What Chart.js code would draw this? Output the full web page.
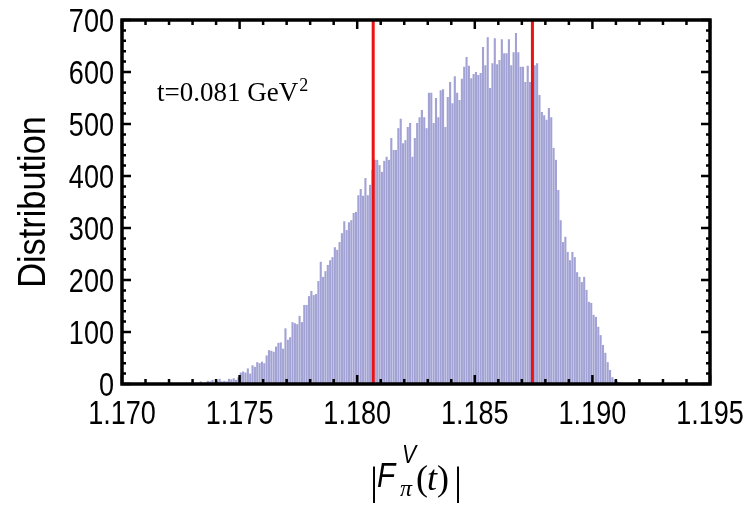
<!DOCTYPE html>
<html>
<head>
<meta charset="utf-8">
<script src="https://cdn.jsdelivr.net/npm/chart.js@4.4.1/dist/chart.umd.min.js"></script>
<style>
  html, body { margin: 0; padding: 0; background: #fff; }
</style>
</head>
<body>
<canvas id="hist" width="750" height="505"></canvas>
<script>
// distribution of |F_pi^V(t)| at t = 0.081 GeV^2, bins of width 0.0001 from 1.1730
var binStart = 1.1730
var binWidth = 0.0001
var counts = [
    0, 2, 0, 5, 0, 3, 6, 5, 8, 3,
    6, 10, 5, 6, 5, 10, 9, 11, 8, 13,
    22, 24, 22, 30, 20, 36, 33, 42, 40, 43,
    40, 55, 65, 64, 62, 72, 79, 80, 68, 107,
    85, 90, 119, 117, 115, 131, 119, 152, 152, 169,
    179, 171, 173, 198, 235, 206, 217, 229, 238, 244,
    263, 258, 273, 290, 313, 296, 311, 315, 329, 331,
    363, 375, 362, 396, 363, 383, 412, 431, 431, 421,
    408, 429, 437, 431, 473, 450, 450, 492, 510, 463,
    469, 494, 502, 437, 473, 502, 513, 527, 513, 492,
    560, 560, 502, 550, 513, 565, 567, 494, 552, 581,
    540, 592, 560, 546, 587, 610, 629, 612, 588, 596,
    600, 594, 598, 648, 613, 667, 569, 617, 665, 615,
    623, 663, 636, 636, 663, 613, 638, 675, 638, 610,
    610, 581, 612, 581, 600, 613, 617, 556, 523, 517,
    508, 531, 513, 454, 431, 373, 315, 273, 283, 254,
    238, 254, 244, 215, 206, 196, 206, 181, 158, 156,
    133, 129, 110, 94, 75, 60, 42, 27, 13, 8,
    5, 3, 1
]
// red vertical lines (interval limits)
var bandEdges = [1.18068, 1.18745]

var xTicks = [1.170, 1.175, 1.180, 1.185, 1.190, 1.195]
var yTicks = [0, 100, 200, 300, 400, 500, 600, 700]

var sans = "'Liberation Sans', Arial, sans-serif"
var serif = "'Liberation Serif', 'Times New Roman', serif"
var squeeze = 0.82   // the reference lettering is condensed

var points = counts.map(function (c, i) {
    return { x: binStart + (i + 0.5) * binWidth, y: c }
})

var datasets = [{
    type: 'bar',
    data: points,
    backgroundColor: 'rgb(162,162,213)',
    borderWidth: 0,
    barPercentage: 1,
    categoryPercentage: 0.9,
    order: 2
}]

bandEdges.forEach(function (e) {
    datasets.push({
        type: 'line',
        data: [{ x: e, y: yTicks[0] }, { x: e, y: yTicks[yTicks.length - 1] }],
        borderColor: '#ee1111',
        borderWidth: 3,
        pointRadius: 0,
        order: 1
    })
})

// narrow text: squeeze horizontally around the anchor
function narrowText(ctx, s, x, y, align, k) {
    ctx.save()
    ctx.translate(x, y)
    ctx.scale(k, 1)
    ctx.textAlign = align
    ctx.fillText(s, 0, 0)
    ctx.restore()
}

var frame = {
    id: 'frame',
    afterDraw: function (chart) {
        var ctx = chart.ctx
        var a = chart.chartArea
        var xs = chart.scales.x
        var ys = chart.scales.y
        ctx.save()
        ctx.strokeStyle = '#000'
        ctx.lineWidth = 2.5
        ctx.beginPath()
        // x ticks every 0.001, major every 0.005
        for (var k = 0; k <= 25; k++) {
            var px = xs.getPixelForValue(xTicks[0] + k * 0.001)
            var len = (k % 5 == 0) ? 9 : 5
            ctx.moveTo(px, a.bottom); ctx.lineTo(px, a.bottom - len)
            ctx.moveTo(px, a.top); ctx.lineTo(px, a.top + len)
        }
        // y ticks every 20, major every 100
        for (var j = 0; j <= 35; j++) {
            var py = ys.getPixelForValue(j * 20)
            var l = (j % 5 == 0) ? 9 : 4
            ctx.moveTo(a.left, py); ctx.lineTo(a.left + l, py)
            ctx.moveTo(a.right, py); ctx.lineTo(a.right - l, py)
        }
        ctx.stroke()
        ctx.lineWidth = 3.5
        ctx.strokeRect(a.left, a.top, a.right - a.left, a.bottom - a.top)

        ctx.fillStyle = '#000'
        ctx.textBaseline = 'alphabetic'

        // tick labels
        ctx.font = '33px ' + sans
        xTicks.forEach(function (v) {
            narrowText(ctx, v.toFixed(3), xs.getPixelForValue(v), a.bottom + 40, 'center', squeeze)
        })
        yTicks.forEach(function (v) {
            narrowText(ctx, String(v), a.left - 8, ys.getPixelForValue(v) + 12, 'right', squeeze)
        })

        // annotation
        ctx.textAlign = 'left'
        ctx.font = '27px ' + serif
        var tx = a.left + 35, ty = a.top + 81
        ctx.fillText('t=0.081 GeV', tx, ty)
        var w = ctx.measureText('t=0.081 GeV').width
        ctx.font = '18px ' + serif
        ctx.fillText('2', tx + w + 1, ty - 10)

        // y title
        ctx.save()
        ctx.translate(45, (a.top + a.bottom) / 2)
        ctx.rotate(-Math.PI / 2)
        ctx.font = '39px ' + sans
        narrowText(ctx, 'Distribution', 0, 0, 'center', 0.88)
        ctx.restore()

        // x title |F_pi^V(t)|
        var bx = 370, by = 490
        ctx.font = '40px ' + serif
        ctx.fillText('|', bx, by + 4)
        ctx.font = 'italic 35px ' + sans
        narrowText(ctx, 'F', bx + 7, by - 3, 'left', 0.85)
        ctx.font = 'italic 25px ' + sans
        narrowText(ctx, 'V', bx + 32, by - 27, 'left', 0.85)
        ctx.font = 'italic 24px ' + serif
        ctx.fillText('\u03c0', bx + 30, by + 6)
        ctx.font = '36px ' + serif
        ctx.fillText('(', bx + 46, by)
        ctx.font = 'italic 36px ' + serif
        ctx.fillText('t', bx + 57, by)
        ctx.font = '36px ' + serif
        ctx.fillText(')', bx + 67, by)
        ctx.font = '40px ' + serif
        ctx.fillText('|', bx + 84, by + 4)
        ctx.restore()
    }
}

new Chart(document.getElementById('hist'), {
    type: 'bar',
    data: { datasets: datasets },
    options: {
        responsive: false,
        animation: false,
        layout: { padding: { top: 20, right: 40, left: 0, bottom: 0 } },
        plugins: { legend: { display: false }, tooltip: { enabled: false } },
        scales: {
            x: {
                type: 'linear',
                min: xTicks[0],
                max: xTicks[xTicks.length - 1],
                offset: false,
                grid: { display: false, drawTicks: false, offset: false },
                border: { display: false },
                afterBuildTicks: function (s) {
                    s.ticks = xTicks.map(function (v) { return { value: v } })
                },
                afterFit: function (s) { s.height = 121 },
                ticks: { display: false }
            },
            y: {
                min: yTicks[0],
                max: yTicks[yTicks.length - 1],
                grid: { display: false, drawTicks: false },
                border: { display: false },
                afterBuildTicks: function (s) {
                    s.ticks = yTicks.map(function (v) { return { value: v } })
                },
                afterFit: function (s) { s.width = 122 },
                ticks: { display: false }
            }
        }
    },
    plugins: [frame]
})
</script>
</body>
</html>
